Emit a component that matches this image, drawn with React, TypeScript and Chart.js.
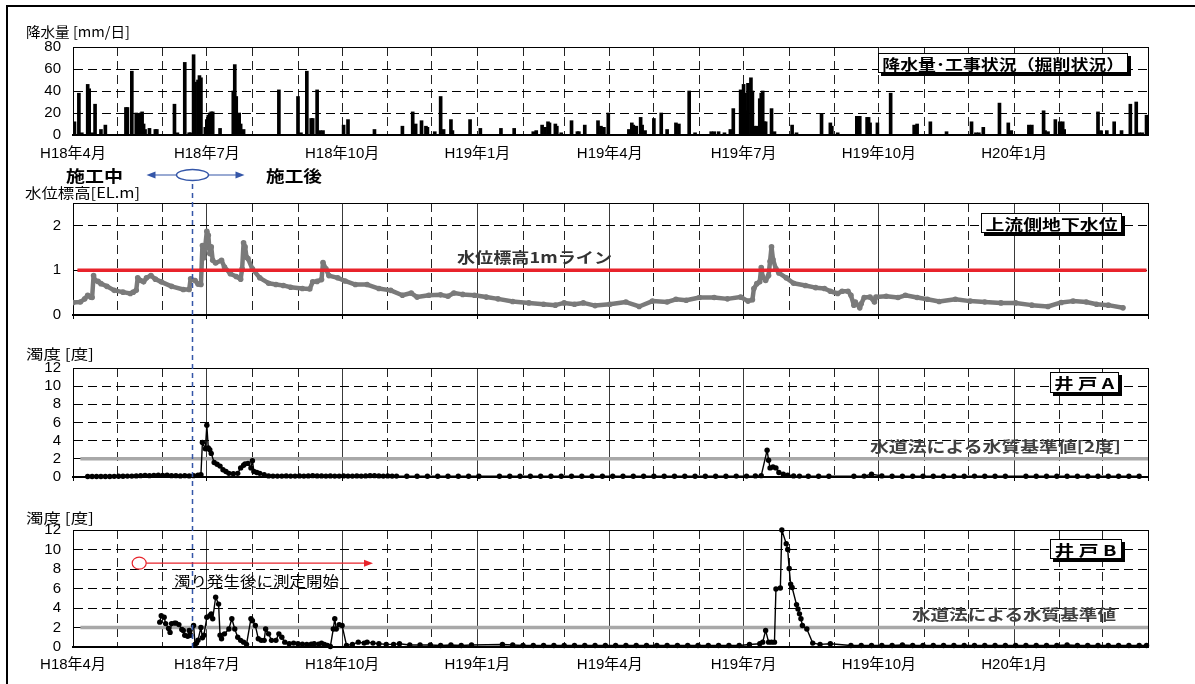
import React, { useEffect, useLayoutEffect, useRef } from "react";
import { Chart, registerables } from "chart.js";

Chart.register(...registerables);

// ---------------- data ----------------
// x values: day number counted from 2006-04-01 (H18年4月1日)
const monthTickDays = [0, 30, 61, 91, 122, 153, 183, 214, 244, 275, 306, 334, 365, 395, 426, 456, 487, 518, 548, 579, 609, 640, 671, 700, 731];
const monthTickLabels = ["H18年4月", "", "", "H18年7月", "", "", "H18年10月", "", "", "H19年1月", "", "", "H19年4月", "", "", "H19年7月", "", "", "H19年10月", "", "", "H20年1月", "", "", ""];

const rainTickValues = [0, 20, 40, 60, 80];
const rainTickLabels = ["0", "20", "40", "60", "80"];
const rainDays = [
  1, 4, 6, 10, 11, 13, 15, 19, 22,
  36, 37, 40, 43, 44, 46, 47, 48, 49, 52, 56, 57,
  69, 71, 76, 79, 80, 82, 83, 85, 86, 87, 90,
  91, 92, 93, 94, 95, 100, 109, 110, 111, 113, 114, 116,
  140,
  153, 155, 159, 162, 163, 166, 168, 170,
  184, 187, 205,
  224, 231, 233, 237, 240, 241,
  246, 250, 252, 257, 258, 270,
  277, 291, 300,
  313, 315, 319, 321, 323, 324, 328, 329, 332,
  339, 343, 344, 348, 357, 359, 361, 364,
  378, 380, 381, 383, 386, 387, 389,
  395, 400, 404, 410, 412, 419, 423,
  434, 436, 439, 443, 447, 449, 454,
  456, 457, 458, 459, 461, 462, 463, 464, 465, 467, 468, 469, 470, 471, 475, 477,
  489, 492, 509, 515, 516,
  520, 533, 535, 540, 541, 542, 547,
  556, 572, 574,
  583, 594,
  611, 614, 616, 619, 630, 636, 638,
  650, 652, 660, 661, 663, 668,
  671, 673, 674, 697, 699,
  703, 708, 713, 719, 723, 725, 727, 730,
];
const rainMm = [
  12, 38, 2, 46, 42, 2, 28, 5, 9,
  25, 25, 58, 20, 19, 20, 21, 10, 5, 6, 5, 5,
  28, 2, 66, 2, 2, 73, 48, 50, 54, 52, 7,
  14, 18, 20, 21, 21, 6, 40, 64, 35, 20, 10, 5,
  41,
  35, 2, 58, 15, 15, 41, 4, 4,
  9, 14, 5,
  8, 21, 10, 13, 8, 7,
  3, 35, 5, 14, 4, 14,
  6, 6, 6,
  3, 4, 9, 7, 12, 11, 10, 8, 2,
  13, 3, 3, 9, 13, 8, 7, 20,
  5, 11, 9, 8, 16, 9, 4,
  15, 20, 5, 11, 10, 40, 2,
  3, 3, 3, 2, 5, 24, 41,
  46, 38, 22, 47, 52, 40, 8, 4, 8, 33, 38, 40, 12, 12, 24, 3,
  9, 2, 19, 11, 8,
  2, 17, 17, 16, 16, 11, 11,
  38, 9, 10,
  12, 3,
  12, 2, 2, 7, 29, 11, 4,
  9, 9, 22, 4, 3, 14,
  12, 12, 5, 21, 4,
  4, 12, 4, 28, 30, 2, 2, 18,
];

const waterTickValues = [0, 1, 2, 2.5];
const waterTickLabels = ["0", "1", "2", ""];
const waterDays = [
  0, 5, 8, 10, 12, 13, 14, 15, 17, 19,
  23, 28, 34, 39, 41, 43, 44, 46, 48, 50,
  53, 56, 60, 67, 75, 79, 80, 83, 85, 87,
  88, 89, 90, 91, 92, 93, 94, 95, 97, 101,
  103, 107, 111, 114, 115, 116, 117, 118, 119, 122,
  127, 133, 138, 143, 148, 156, 161, 163, 166, 169,
  170, 172, 174, 180, 185, 192, 200, 208, 216, 224,
  230, 234, 242, 250, 255, 259, 265, 273, 281, 289,
  299, 310, 320, 328, 334, 341, 347, 355, 365, 376,
  385, 394, 404, 410, 417, 426, 436, 445, 454, 459,
  462, 463, 465, 467, 468, 469, 471, 473, 474, 475,
  476, 478, 480, 485, 490, 498, 505, 511, 515, 520,
  523, 527, 529, 531, 532, 535, 536, 538, 542, 545,
  546, 553, 561, 566, 574, 581, 589, 600, 610, 620,
  631, 641, 652, 663, 672, 680, 689, 696, 704, 714,
];
const waterLevel = [
  0.28, 0.29, 0.36, 0.44, 0.40, 0.39, 0.88, 0.77, 0.75, 0.70,
  0.64, 0.55, 0.51, 0.48, 0.51, 0.55, 0.83, 0.77, 0.74, 0.83,
  0.88, 0.80, 0.74, 0.64, 0.57, 0.57, 0.81, 0.77, 0.69, 0.68,
  1.55, 1.28, 1.55, 1.87, 1.78, 1.37, 1.52, 1.22, 1.16, 1.22,
  1.07, 0.92, 0.86, 0.80, 1.03, 1.61, 1.52, 1.29, 1.26, 1.03,
  0.83, 0.71, 0.68, 0.66, 0.62, 0.59, 0.58, 0.74, 0.75, 0.79,
  1.17, 1.03, 0.88, 0.83, 0.76, 0.68, 0.68, 0.59, 0.55, 0.44,
  0.49, 0.40, 0.44, 0.45, 0.42, 0.49, 0.46, 0.44, 0.40, 0.36,
  0.30, 0.27, 0.24, 0.22, 0.27, 0.24, 0.27, 0.21, 0.24, 0.29,
  0.19, 0.31, 0.29, 0.35, 0.33, 0.39, 0.39, 0.36, 0.40, 0.31,
  0.34, 0.59, 0.70, 0.74, 1.06, 0.85, 0.77, 0.88, 1.20, 1.52,
  1.24, 1.03, 0.94, 0.83, 0.71, 0.66, 0.61, 0.59, 0.53, 0.48,
  0.53, 0.53, 0.44, 0.22, 0.29, 0.16, 0.25, 0.39, 0.40, 0.29,
  0.40, 0.42, 0.39, 0.44, 0.39, 0.35, 0.30, 0.35, 0.31, 0.29,
  0.27, 0.27, 0.22, 0.19, 0.28, 0.31, 0.29, 0.24, 0.22, 0.16,
];
const oneMeterLineDays = [3, 730];
const oneMeterLineLevel = [1, 1];

const turbTickValues = [0, 2, 4, 6, 8, 10, 12];
const turbTickLabels = ["0", "2", "4", "6", "8", "10", "12"];
const standardLineDays = [5, 731];
const standardLineLevel = [2, 2];

const turbADays = [
  10, 13, 16, 19, 22, 25, 28, 31, 34, 37,
  40, 43, 46, 49, 52, 55, 58, 61, 64, 67,
  70, 73, 76, 79, 82, 85, 87, 88, 90, 91,
  92, 93, 94, 96, 98, 100, 102, 104, 106, 109,
  112, 114, 116, 117, 119, 121, 122, 123, 125, 127,
  130, 133, 136, 139, 142, 145, 148, 151, 154, 157,
  160, 163, 166, 169, 172, 175, 178, 181, 184, 187,
  190, 193, 196, 199, 202, 205, 208, 211, 214, 217,
  220, 227, 234, 241, 248, 255, 262, 269, 276, 290,
  297, 304, 311, 318, 325, 332, 339, 346, 353, 360,
  367, 374, 381, 388, 395, 402, 409, 416, 423, 430,
  437, 444, 451, 458, 464, 468, 472, 473, 474, 476,
  478, 480, 483, 486, 490, 494, 500, 507, 514, 531,
  538, 543, 550, 557, 564, 571, 578, 585, 592, 599,
  606, 613, 620, 627, 634, 648, 655, 662, 669, 676,
  683, 690, 697, 704, 711, 718, 725,
];
const turbAValues = [
  0.05, 0.05, 0.05, 0.06, 0.06, 0.06, 0.07, 0.08, 0.08, 0.10,
  0.10, 0.12, 0.15, 0.18, 0.15, 0.18, 0.20, 0.18, 0.20, 0.15,
  0.15, 0.12, 0.15, 0.12, 0.15, 0.20, 0.25, 3.80, 3.10, 5.70,
  3.20, 3.00, 2.60, 1.60, 1.40, 1.20, 0.80, 0.60, 0.40, 0.35,
  0.40, 1.00, 1.30, 1.45, 1.50, 1.00, 1.80, 0.60, 0.50, 0.40,
  0.25, 0.12, 0.10, 0.10, 0.10, 0.12, 0.10, 0.10, 0.12, 0.10,
  0.12, 0.15, 0.12, 0.12, 0.10, 0.12, 0.10, 0.10, 0.12, 0.10,
  0.10, 0.12, 0.10, 0.12, 0.15, 0.15, 0.12, 0.10, 0.12, 0.10,
  0.10, 0.08, 0.08, 0.08, 0.08, 0.08, 0.08, 0.08, 0.08, 0.08,
  0.08, 0.08, 0.08, 0.08, 0.08, 0.08, 0.08, 0.08, 0.08, 0.08,
  0.08, 0.08, 0.08, 0.08, 0.08, 0.08, 0.08, 0.08, 0.08, 0.08,
  0.08, 0.08, 0.10, 0.10, 0.12, 0.15, 2.95, 1.85, 1.00, 1.10,
  1.00, 0.50, 0.30, 0.20, 0.12, 0.10, 0.08, 0.08, 0.08, 0.08,
  0.10, 0.30, 0.12, 0.08, 0.08, 0.08, 0.08, 0.08, 0.08, 0.08,
  0.08, 0.10, 0.08, 0.08, 0.08, 0.08, 0.08, 0.08, 0.08, 0.08,
  0.08, 0.08, 0.08, 0.08, 0.08, 0.08, 0.08,
];

const turbBDays = [
  59, 60, 62, 63, 65, 66, 67, 69, 70, 72,
  74, 75, 76, 78, 79, 80, 82, 83, 84, 85,
  87, 88, 89, 91, 93, 94, 95, 97, 99, 100,
  101, 103, 106, 108, 110, 112, 114, 116, 118, 121,
  122, 124, 126, 128, 130, 131, 133, 135, 138, 140,
  142, 144, 147, 150, 153, 156, 159, 162, 164, 167,
  169, 171, 173, 175, 177, 178, 179, 181, 183, 186,
  190, 194, 198, 200, 204, 208, 213, 218, 222, 229,
  236, 243, 250, 257, 264, 271, 292, 299, 306, 313,
  320, 327, 334, 341, 348, 355, 362, 369, 376, 383,
  390, 397, 404, 411, 418, 425, 432, 439, 446, 453,
  460, 467, 469, 471, 473, 475, 477, 478, 481, 482,
  485, 486, 487, 488, 489, 492, 493, 494, 495, 496,
  499, 503, 508, 515, 529, 536, 543, 550, 557, 564,
  571, 578, 585, 592, 599, 606, 613, 620, 627, 634,
  641, 648, 655, 662, 669, 676, 683, 690, 697, 704,
  711, 718, 725, 730,
];
const turbBValues = [
  2.55, 3.20, 3.05, 2.40, 1.90, 1.50, 2.40, 2.45, 2.45, 2.30,
  1.80, 1.70, 1.20, 1.10, 1.70, 1.20, 2.20, 0.27, 0.40, 0.70,
  2.00, 0.95, 1.20, 3.05, 3.20, 3.40, 2.90, 5.10, 4.40, 1.20,
  0.85, 1.35, 1.85, 2.90, 1.85, 1.00, 0.68, 0.50, 0.27, 2.90,
  2.70, 2.20, 0.85, 0.68, 0.68, 1.85, 1.35, 0.68, 0.68, 1.35,
  1.00, 0.50, 0.34, 0.40, 0.34, 0.30, 0.27, 0.30, 0.34, 0.30,
  0.40, 0.25, 0.17, 0.05, 1.85, 2.90, 1.85, 2.30, 2.20, 0.17,
  0.27, 0.50, 0.40, 0.50, 0.40, 0.34, 0.27, 0.27, 0.34, 0.20,
  0.20, 0.20, 0.15, 0.20, 0.15, 0.20, 0.25, 0.20, 0.15, 0.15,
  0.15, 0.15, 0.15, 0.15, 0.15, 0.15, 0.15, 0.15, 0.15, 0.15,
  0.15, 0.15, 0.15, 0.15, 0.15, 0.15, 0.15, 0.15, 0.15, 0.15,
  0.25, 0.34, 0.50, 1.70, 0.50, 0.50, 0.50, 5.95, 6.05, 12.00,
  10.60, 10.00, 8.05, 6.45, 6.10, 4.35, 3.90, 3.40, 2.90, 2.20,
  1.85, 0.40, 0.27, 0.34, 0.15, 0.15, 0.15, 0.15, 0.15, 0.20,
  0.15, 0.15, 0.15, 0.15, 0.15, 0.15, 0.15, 0.15, 0.15, 0.15,
  0.15, 0.15, 0.15, 0.15, 0.15, 0.20, 0.15, 0.15, 0.15, 0.15,
  0.15, 0.15, 0.15, 0.15,
];

// annotations (in data units)
const constructionEndDay = 81; // 施工中 → 施工後
const noteStartDay = 45;
const noteEndDay = 204;
const noteLevel = 8.6;

// ---------------- layout ----------------
const W = 1195;
const H = 684;
const PLOT_L = 73;
const PLOT_R = 1148;
const FONT = "'Liberation Sans', 'Noto Sans CJK JP', sans-serif";
const CJK_FONT = "'Noto Sans CJK JP', 'Liberation Sans', sans-serif";
const DASH = [9, 5];
const BLUE = "#3456a8";
const RED = "#e8232b";

const pts = (xs: number[], ys: number[]) => xs.map((x, i) => ({ x, y: ys[i] }));

function xAxis(showLabels: boolean, solidQuarters: boolean, quarterTicks: boolean, labelPad: number) {
  const last = monthTickDays.length - 1;
  return {
    type: "linear",
    min: 0,
    max: 731,
    offset: false,
    afterBuildTicks: (s: any) => {
      s.ticks = monthTickDays.map((v) => ({ value: v }));
    },
    afterFit: (s: any) => {
      s.height = showLabels ? 32 : 0;
    },
    ticks: {
      display: showLabels,
      autoSkip: false,
      maxRotation: 0,
      minRotation: 0,
      padding: labelPad,
      color: "#000",
      font: { family: FONT, size: 15 },
      callback: (_v: any, i: number) => monthTickLabels[i] ?? "",
    },
    grid: {
      offset: false,
      lineWidth: 1,
      color: (c: any) => {
        const i = c.index;
        if (i === 0 || i === last) return "#000";
        return solidQuarters && i % 3 === 0 ? "#3a3a3a" : "#222";
      },
      drawTicks: quarterTicks,
      tickLength: 4,
      tickWidth: 1,
      tickColor: (c: any) => (c.index % 3 === 0 ? "#000" : "rgba(0,0,0,0)"),
    },
    border: {
      display: true,
      color: "#000",
      width: 2,
      dash: (c: any) => {
        if (!c.tick) return [];
        const i = c.index;
        if (i === 0 || i === last) return [];
        if (solidQuarters && i % 3 === 0) return [];
        return DASH;
      },
    },
  };
}

function yAxis(max: number, values: number[], labels: string[]) {
  return {
    min: 0,
    max,
    afterBuildTicks: (s: any) => {
      s.ticks = values.map((v) => ({ value: v }));
    },
    afterFit: (s: any) => {
      s.width = PLOT_L;
    },
    ticks: {
      padding: 12,
      color: "#000",
      autoSkip: false,
      font: { family: FONT, size: 15 },
      callback: (_v: any, i: number) => labels[i] ?? "",
    },
    grid: {
      drawTicks: false,
      lineWidth: 1,
      color: (c: any) => (c.tick && c.tick.value === 0 ? "rgba(0,0,0,0)" : "#000"),
    },
    border: {
      display: true,
      color: "#000",
      width: 1,
      dash: (c: any) => (c.tick && c.tick.value < max ? DASH : []),
    },
  };
}

function baseOptions(top: number, bottom: number, axisH: number, scales: any) {
  return {
    responsive: false,
    maintainAspectRatio: false,
    animation: false,
    devicePixelRatio: 1,
    events: [],
    layout: { padding: { left: 0, right: W - PLOT_R, top, bottom: H - bottom - axisH } },
    plugins: { legend: { display: false }, tooltip: { enabled: false }, title: { display: false } },
    scales,
  };
}

function arrowHead(ctx: CanvasRenderingContext2D, x: number, y: number, dir: number, color: string) {
  ctx.beginPath();
  ctx.moveTo(x, y);
  ctx.lineTo(x - dir * 9, y - 3.5);
  ctx.lineTo(x - dir * 9, y + 3.5);
  ctx.closePath();
  ctx.fillStyle = color;
  ctx.fill();
}

const overlayPlugin = {
  id: "overlayMarks",
  afterDraw(chart: any) {
    const ctx: CanvasRenderingContext2D = chart.ctx;
    const xs = chart.scales.x;
    const ys = chart.scales.y;
    const bx = Math.round(xs.getPixelForValue(constructionEndDay)) + 0.5;
    const ey = 175;
    ctx.save();
    // construction boundary
    ctx.strokeStyle = BLUE;
    ctx.lineWidth = 1.5;
    ctx.setLineDash([5, 4]);
    ctx.beginPath();
    ctx.moveTo(bx, ey + 9);
    ctx.lineTo(bx, ys.bottom + 4);
    ctx.stroke();
    ctx.setLineDash([]);
    ctx.beginPath();
    ctx.ellipse(bx, ey, 16, 5.5, 0, 0, Math.PI * 2);
    ctx.stroke();
    ctx.lineWidth = 1.2;
    ctx.beginPath();
    ctx.moveTo(bx - 16, ey);
    ctx.lineTo(bx - 40, ey);
    ctx.moveTo(bx + 16, ey);
    ctx.lineTo(bx + 46, ey);
    ctx.stroke();
    arrowHead(ctx, bx - 46, ey, -1, BLUE);
    arrowHead(ctx, bx + 52, ey, 1, BLUE);
    // measurement start note
    const cx = xs.getPixelForValue(noteStartDay);
    const cy = ys.getPixelForValue(noteLevel);
    const ex = xs.getPixelForValue(noteEndDay);
    ctx.strokeStyle = RED;
    ctx.lineWidth = 1.2;
    ctx.beginPath();
    ctx.ellipse(cx, cy, 7, 6, 0, 0, Math.PI * 2);
    ctx.stroke();
    ctx.beginPath();
    ctx.moveTo(cx + 7, cy);
    ctx.lineTo(ex - 6, cy);
    ctx.stroke();
    arrowHead(ctx, ex, cy, 1, RED);
    ctx.restore();
  },
};

export default function App() {
  const rainRef = useRef<HTMLCanvasElement>(null);
  const waterRef = useRef<HTMLCanvasElement>(null);
  const aRef = useRef<HTMLCanvasElement>(null);
  const bRef = useRef<HTMLCanvasElement>(null);
  const rootRef = useRef<HTMLDivElement>(null);

  useEffect(() => {
    const charts: Chart[] = [];
    charts.push(
      new Chart(rainRef.current as HTMLCanvasElement, {
        type: "bar",
        data: {
          datasets: [
            { data: pts(rainDays, rainMm), backgroundColor: "#000", borderWidth: 0, barThickness: 3, grouped: false } as any,
          ],
        },
        options: baseOptions(47, 135, 32, {
          x: xAxis(true, false, false, 10),
          y: yAxis(80, rainTickValues, rainTickLabels),
        }) as any,
      })
    );
    charts.push(
      new Chart(waterRef.current as HTMLCanvasElement, {
        type: "line",
        data: {
          datasets: [
            { data: pts(oneMeterLineDays, oneMeterLineLevel), borderColor: RED, borderWidth: 3.5, pointRadius: 0, order: 0 },
            {
              data: pts(waterDays, waterLevel),
              borderColor: "#7a7a7a",
              borderWidth: 4.5,
              borderJoinStyle: "round",
              borderCapStyle: "round",
              pointRadius: 2.8,
              pointBackgroundColor: "#7a7a7a",
              pointBorderWidth: 0,
              order: 1,
            },
          ] as any,
        },
        options: baseOptions(203, 315, 0, {
          x: xAxis(false, true, true, 4),
          y: yAxis(2.5, waterTickValues, waterTickLabels),
        }) as any,
      })
    );
    charts.push(
      new Chart(aRef.current as HTMLCanvasElement, {
        type: "line",
        data: {
          datasets: [
            { data: pts(standardLineDays, standardLineLevel), borderColor: "#a8a8a8", borderWidth: 3.5, pointRadius: 0, order: 1 },
            {
              data: pts(turbADays, turbAValues),
              borderColor: "#000",
              borderWidth: 1.4,
              borderJoinStyle: "round",
              pointRadius: 2.7,
              pointBackgroundColor: "#000",
              pointBorderWidth: 0,
              order: 0,
              clip: false,
            },
          ] as any,
        },
        options: baseOptions(368, 477, 0, {
          x: xAxis(false, true, true, 4),
          y: yAxis(12, turbTickValues, turbTickLabels),
        }) as any,
      })
    );
    charts.push(
      new Chart(bRef.current as HTMLCanvasElement, {
        type: "line",
        data: {
          datasets: [
            { data: pts(standardLineDays, standardLineLevel), borderColor: "#a8a8a8", borderWidth: 3.5, pointRadius: 0, order: 1 },
            {
              data: pts(turbBDays, turbBValues),
              borderColor: "#000",
              borderWidth: 1.4,
              borderJoinStyle: "round",
              pointRadius: 2.7,
              pointBackgroundColor: "#000",
              pointBorderWidth: 0,
              order: 0,
              clip: false,
            },
          ] as any,
        },
        options: baseOptions(530, 647, 32, {
          x: xAxis(true, true, false, 9),
          y: yAxis(12, turbTickValues, turbTickLabels),
        }) as any,
        plugins: [overlayPlugin as any],
      })
    );
    return () => charts.forEach((c) => c.destroy());
  }, []);

  useLayoutEffect(() => {
    const root = rootRef.current;
    if (!root) return;
    root.querySelectorAll<HTMLElement>("[data-tw]").forEach((el) => {
      const base = el.dataset.base || "";
      el.style.transform = base;
      const w = el.getBoundingClientRect().width;
      if (w > 0) el.style.transform = `${base} scaleX(${Number(el.dataset.tw) / w})`;
    });
  }, []);

  const plain = [
    { text: "降水量 [mm/日]", left: 26, cy: 31, w: 104, size: 14, bold: false, color: "#000" },
    { text: "施工中", left: 66, cy: 175, w: 57, size: 16, bold: true, color: "#000" },
    { text: "施工後", left: 266, cy: 175, w: 56, size: 16, bold: true, color: "#000" },
    { text: "水位標高[EL.m]", left: 25, cy: 192, w: 115, size: 14, bold: false, color: "#000" },
    { text: "水位標高1mライン", left: 457, cy: 256, w: 155, size: 15, bold: true, color: "#333" },
    { text: "濁度 [度]", left: 26, cy: 353, w: 68, size: 14, bold: false, color: "#000" },
    { text: "水道法による水質基準値[2度]", left: 870, cy: 445, w: 251, size: 15, bold: true, color: "#404040" },
    { text: "濁度 [度]", left: 26, cy: 517, w: 68, size: 14, bold: false, color: "#000" },
    { text: "濁り発生後に測定開始", left: 174, cy: 580, w: 165, size: 14, bold: false, color: "#000" },
    { text: "水道法による水質基準値", left: 912, cy: 613, w: 204, size: 15, bold: true, color: "#404040" },
  ];
  const boxes = [
    { text: "降水量･工事状況（掘削状況）", left: 878, top: 53, width: 250, height: 20, tw: 242 },
    { text: "上流側地下水位", left: 981, top: 213, width: 141, height: 20, tw: 132 },
    { text: "井 戸 A", left: 1050, top: 372, width: 69, height: 21, tw: 60 },
    { text: "井 戸 B", left: 1050, top: 539, width: 72, height: 20, tw: 62 },
  ];

  const canvasStyle: React.CSSProperties = { position: "absolute", left: 0, top: 0, width: W, height: H };

  return (
    <div
      ref={rootRef}
      style={{ position: "fixed", left: 0, top: 0, width: W, height: H, background: "#fff", overflow: "hidden", fontFamily: CJK_FONT }}
    >
      <div
        style={{
          position: "absolute",
          left: 6,
          top: 5,
          width: W + 40,
          height: H + 40,
          borderTop: "2px solid #000",
          borderLeft: "2px solid #000",
        }}
      />
      <canvas ref={rainRef} width={W} height={H} style={canvasStyle} />
      <canvas ref={waterRef} width={W} height={H} style={canvasStyle} />
      <canvas ref={aRef} width={W} height={H} style={canvasStyle} />
      <canvas ref={bRef} width={W} height={H} style={canvasStyle} />
      {plain.map((t, i) => (
        <span
          key={"t" + i}
          data-tw={t.w}
          data-base="translateY(-50%)"
          style={{
            position: "absolute",
            left: t.left,
            top: t.cy,
            transform: "translateY(-50%)",
            transformOrigin: "left center",
            whiteSpace: "nowrap",
            fontSize: t.size,
            fontWeight: t.bold ? 700 : 400,
            color: t.color,
            lineHeight: 1,
            fontFamily: CJK_FONT,
          }}
        >
          {t.text}
        </span>
      ))}
      {boxes.map((b, i) => (
        <div
          key={"b" + i}
          style={{
            position: "absolute",
            left: b.left,
            top: b.top,
            width: b.width,
            height: b.height,
            boxSizing: "border-box",
            background: "#fff",
            border: "1.5px solid #000",
            boxShadow: "3px 3px 0 #000",
            display: "flex",
            alignItems: "center",
            justifyContent: "center",
          }}
        >
          <span
            data-tw={b.tw}
            style={{
              display: "inline-block",
              whiteSpace: "nowrap",
              fontSize: 15,
              fontWeight: 700,
              lineHeight: 1,
              transformOrigin: "center center",
              fontFamily: CJK_FONT,
            }}
          >
            {b.text}
          </span>
        </div>
      ))}
    </div>
  );
}
